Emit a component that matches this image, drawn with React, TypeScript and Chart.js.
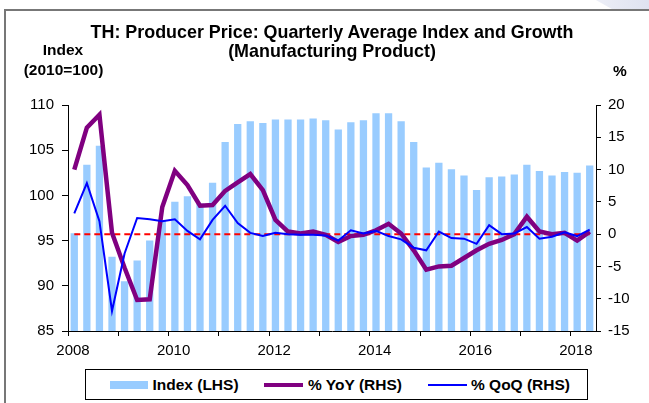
import React, { useEffect, useRef } from 'react';
import { Chart, registerables } from 'chart.js';

Chart.register(...registerables);

// ---- data ----
const firstYear = 2008;
const quarterCount = 42; // 2008 Q1 .. 2018 Q2
const quarters: string[] = [];
for (let i = 0; i < quarterCount; i++) {
  quarters.push(`${firstYear + Math.floor(i / 4)} Q${(i % 4) + 1}`);
}

const indexLHS = [
  95.8, 103.4, 105.5, 93.2, 90.5, 92.8, 95.0, 97.2, 99.3, 99.9, 99.1, 101.4,
  105.9, 107.9, 108.2, 108.0, 108.4, 108.4, 108.4, 108.5, 108.3, 107.3, 108.1, 108.3,
  109.1, 109.1, 108.2, 105.9, 103.1, 103.6, 102.9, 102.2, 100.6, 102.0, 102.1, 102.3,
  103.4, 102.7, 102.2, 102.6, 102.5, 103.3,
];

const yoyRHS = [
  10.0, 16.5, 18.5, 0.2, -5.2, -10.2, -10.1, 4.2, 9.8, 7.6, 4.4, 4.5,
  6.7, 8.0, 9.3, 6.8, 2.2, 0.4, 0.1, 0.4, -0.1, -1.2, -0.3, -0.1,
  0.6, 1.6, 0.1, -2.5, -5.5, -5.0, -4.9, -3.7, -2.5, -1.5, -0.9, 0.0,
  2.7, 0.4, 0.0, 0.2, -1.0, 0.4,
];

const qoqRHS = [
  3.2, 7.9, 2.0, -11.9, -3.0, 2.5, 2.3, 2.0, 2.3, 0.5, -0.8, 2.2,
  4.4, 1.7, 0.2, -0.3, 0.2, 0.0, -0.1, -0.1, -0.2, -1.0, 0.6, 0.1,
  0.5, -0.3, -0.8, -2.1, -2.5, 0.4, -0.6, -0.7, -1.5, 1.4, 0.0, 0.1,
  1.1, -0.7, -0.4, 0.3, -0.3, 0.7,
];

const zeroRef = quarters.map(() => 0);

const xTickLabels = ['2008', '2010', '2012', '2014', '2016', '2018'];
const lhsRange = { min: 85, max: 110, step: 5 };
const rhsRange = { min: -15, max: 20, step: 5 };

const FONT = '"Liberation Sans", Arial, Helvetica, sans-serif';

function Label(props: { x: number; y: number; size: number; bold?: boolean; children: React.ReactNode }) {
  return (
    <div
      style={{
        position: 'absolute',
        left: props.x,
        top: props.y,
        transform: 'translate(-50%, -50%)',
        fontSize: props.size,
        fontWeight: props.bold ? 'bold' : 'normal',
        lineHeight: 1,
        whiteSpace: 'nowrap',
        color: '#000',
        fontFamily: FONT,
      }}
    >
      {props.children}
    </div>
  );
}

export default function App() {
  const canvasRef = useRef<HTMLCanvasElement>(null);

  useEffect(() => {
    const canvas = canvasRef.current;
    if (!canvas) return;
    const chart = new Chart(canvas, {
      type: 'bar',
      data: {
        labels: quarters,
        datasets: [
          {
            type: 'line',
            label: '% QoQ (RHS)',
            data: qoqRHS,
            yAxisID: 'y1',
            xAxisID: 'x',
            borderColor: '#0000ff',
            borderWidth: 2,
            pointRadius: 0,
            tension: 0,
            order: 1,
          } as any,
          {
            type: 'line',
            label: '% YoY (RHS)',
            data: yoyRHS,
            yAxisID: 'y1',
            xAxisID: 'x',
            borderColor: '#800080',
            borderWidth: 4.5,
            pointRadius: 0,
            tension: 0,
            borderJoinStyle: 'miter',
            order: 2,
          } as any,
          {
            type: 'line',
            label: 'zero',
            data: zeroRef,
            yAxisID: 'y1',
            xAxisID: 'x',
            borderColor: '#ff0000',
            borderWidth: 2,
            borderDash: [6, 4],
            pointRadius: 0,
            order: 3,
          } as any,
          {
            type: 'bar',
            label: 'Index (LHS)',
            data: indexLHS,
            yAxisID: 'y',
            xAxisID: 'x',
            backgroundColor: '#99ccff',
            borderWidth: 0,
            barPercentage: 0.58,
            categoryPercentage: 1.0,
            order: 4,
          } as any,
        ],
      },
      options: {
        responsive: false,
        animation: false,
        events: [],
        layout: { padding: { top: 105, left: 0, right: 0, bottom: 0 } },
        plugins: {
          legend: { display: false },
          title: { display: false },
          tooltip: { enabled: false },
        },
        scales: {
          x: {
            type: 'category',
            offset: true,
            display: false,
          },
          x2: {
            type: 'linear',
            position: 'bottom',
            min: 2008,
            max: 2018.5,
            offset: false,
            afterFit: (s: any) => {
              s.height = 72;
            },
            ticks: {
              stepSize: 1,
              includeBounds: false,
              autoSkip: false,
              maxRotation: 0,
              padding: 6,
              labelOffset: 5,
              color: '#000',
              font: { family: FONT, size: 15 },
              callback: (v: any) => {
                const t = String(v);
                return xTickLabels.includes(t) ? t : '';
              },
            },
            grid: {
              offset: false,
              drawOnChartArea: false,
              drawTicks: true,
              tickLength: 5,
              color: '#000',
              lineWidth: 1,
            },
            border: { display: true, color: '#000', width: 1 },
          },
          y: {
            type: 'linear',
            position: 'left',
            min: lhsRange.min,
            max: lhsRange.max,
            afterFit: (s: any) => {
              s.width = 68;
            },
            ticks: {
              stepSize: lhsRange.step,
              padding: 8,
              color: '#000',
              font: { family: FONT, size: 15 },
            },
            grid: { drawOnChartArea: false, drawTicks: true, tickLength: 6, color: '#000', lineWidth: 1 },
            border: { display: true, color: '#000', width: 1 },
          },
          y1: {
            type: 'linear',
            position: 'right',
            min: rhsRange.min,
            max: rhsRange.max,
            afterFit: (s: any) => {
              s.width = 53;
            },
            ticks: {
              stepSize: rhsRange.step,
              padding: 7,
              color: '#000',
              font: { family: FONT, size: 15 },
            },
            grid: { drawOnChartArea: false, drawTicks: true, tickLength: 5, color: '#000', lineWidth: 1 },
            border: { display: true, color: '#000', width: 1 },
          },
        },
      } as any,
    });
    return () => chart.destroy();
  }, []);

  return (
    <div
      style={{
        position: 'absolute',
        left: 0,
        top: 0,
        width: 649,
        height: 403,
        background: '#fff',
        overflow: 'hidden',
        fontFamily: FONT,
      }}
    >
      {/* decorative corner */}
      <div
        style={{
          position: 'absolute',
          left: 590,
          top: 0,
          width: 59,
          height: 10,
          background: 'linear-gradient(90deg, #eef0f8, #dfe2f0)',
          clipPath: 'polygon(10% 0, 100% 0, 100% 100%, 40% 100%)',
        }}
      />
      {/* frame */}
      <div
        style={{
          position: 'absolute',
          left: 4,
          top: 9,
          width: 700,
          height: 500,
          borderTop: '2px solid #777',
          borderLeft: '2px solid #777',
        }}
      />
      <canvas
        ref={canvasRef}
        width={649}
        height={403}
        style={{ position: 'absolute', left: 0, top: 0, width: 649, height: 403 }}
      />
      <Label x={332} y={33} size={17.9} bold>
        TH: Producer Price: Quarterly Average Index and Growth
      </Label>
      <Label x={332} y={52} size={17.9} bold>
        (Manufacturing Product)
      </Label>
      <Label x={63} y={50} size={15.5} bold>
        Index
      </Label>
      <Label x={63.5} y={70} size={15.5} bold>
        (2010=100)
      </Label>
      <Label x={620} y={71} size={15.5} bold>
        %
      </Label>
      {/* legend */}
      <div
        style={{
          position: 'absolute',
          left: 85,
          top: 369,
          width: 503,
          height: 31,
          border: '1px solid #000',
          boxSizing: 'border-box',
          background: '#fff',
        }}
      />
      <div style={{ position: 'absolute', left: 110, top: 381, width: 38, height: 8, background: '#99ccff' }} />
      <div style={{ position: 'absolute', left: 264, top: 383, width: 39, height: 4, background: '#800080' }} />
      <div style={{ position: 'absolute', left: 428, top: 384, width: 39, height: 2, background: '#0000ff' }} />
      <Label x={195.5} y={385} size={15.5} bold>
        Index (LHS)
      </Label>
      <Label x={355} y={385} size={15.5} bold>
        % YoY (RHS)
      </Label>
      <Label x={520.5} y={385} size={15.5} bold>
        % QoQ (RHS)
      </Label>
    </div>
  );
}
